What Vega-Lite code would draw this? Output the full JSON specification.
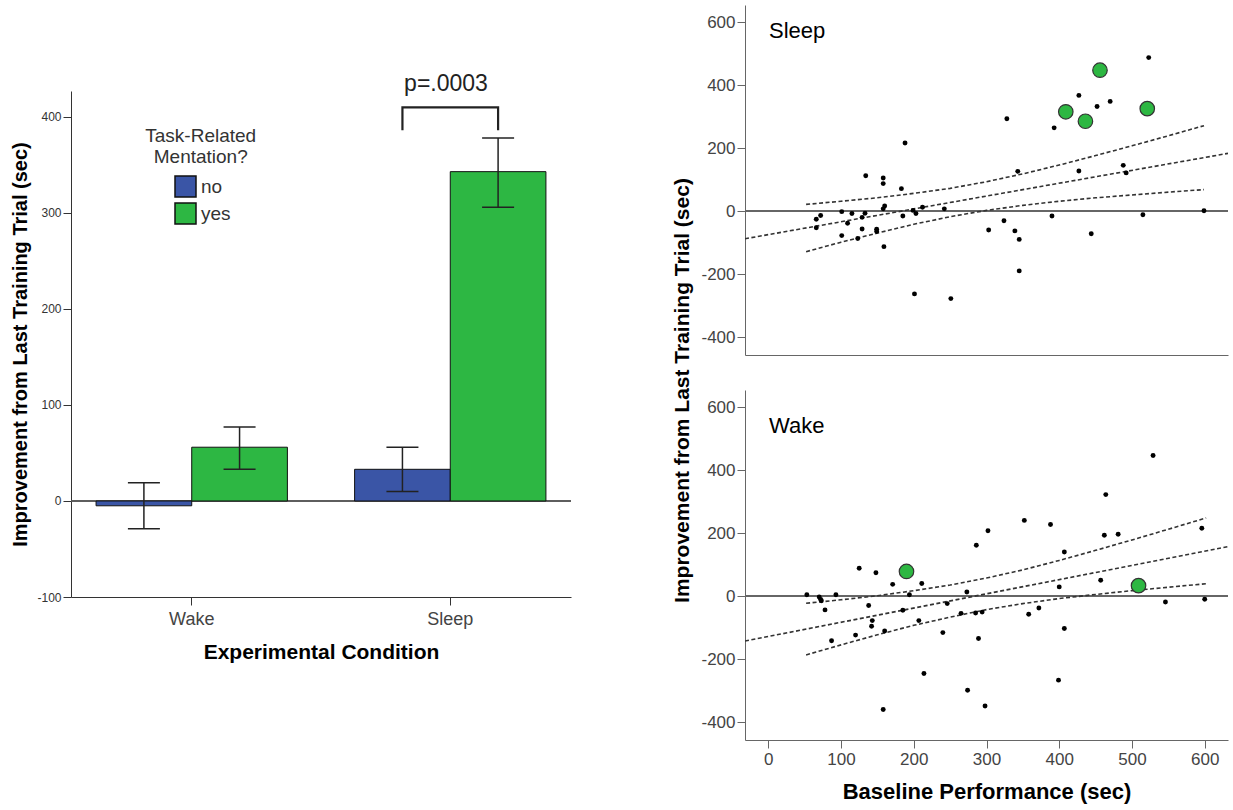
{
  "$schema": "https://vega.github.io/schema/vega-lite/v6.json",
  "padding": {"left": 10, "top": 5, "right": 5, "bottom": 5},
  "background": "white",
  "config": {
    "view": {"stroke": null},
    "font": "Liberation Sans",
    "axis": {"grid": false, "labelFont": "Liberation Sans", "titleFont": "Liberation Sans", "domainColor": "#333", "tickColor": "#333", "labelColor": "#333", "titleColor": "#000"},
    "legend": {"labelFont": "Liberation Sans", "titleFont": "Liberation Sans"}
  },
  "datasets": {
    "bars": [
      {"cond": "Wake", "grp": "no", "mean": -5, "lo": -29, "hi": 19},
      {"cond": "Wake", "grp": "yes", "mean": 56, "lo": 33, "hi": 77},
      {"cond": "Sleep", "grp": "no", "mean": 33, "lo": 10, "hi": 56},
      {"cond": "Sleep", "grp": "yes", "mean": 343, "lo": 306, "hi": 378}
    ],
    "bracket": [
      {"cond": "Sleep", "grp": "no", "v": 386, "k": 1},
      {"cond": "Sleep", "grp": "no", "v": 410, "k": 2},
      {"cond": "Sleep", "grp": "yes", "v": 410, "k": 3},
      {"cond": "Sleep", "grp": "yes", "v": 386, "k": 4}
    ],
    "sleep": [
      {"x": 523, "y": 488, "m": "no"}, {"x": 427, "y": 368, "m": "no"}, {"x": 452, "y": 333, "m": "no"}, {"x": 470, "y": 349, "m": "no"},
      {"x": 328, "y": 294, "m": "no"}, {"x": 393, "y": 265, "m": "no"}, {"x": 188, "y": 217, "m": "no"}, {"x": 343, "y": 127, "m": "no"},
      {"x": 427, "y": 128, "m": "no"}, {"x": 488, "y": 146, "m": "no"}, {"x": 492, "y": 122, "m": "no"}, {"x": 134, "y": 113, "m": "no"},
      {"x": 158, "y": 106, "m": "no"}, {"x": 158, "y": 88, "m": "no"}, {"x": 183, "y": 72, "m": "no"}, {"x": 160, "y": 17, "m": "no"},
      {"x": 158, "y": 8, "m": "no"}, {"x": 212, "y": 13, "m": "no"}, {"x": 242, "y": 8, "m": "no"}, {"x": 199, "y": 3, "m": "no"},
      {"x": 203, "y": -7, "m": "no"}, {"x": 185, "y": -15, "m": "no"}, {"x": 101, "y": -1, "m": "no"}, {"x": 115, "y": -7, "m": "no"},
      {"x": 133, "y": -6, "m": "no"}, {"x": 129, "y": -19, "m": "no"}, {"x": 109, "y": -38, "m": "no"}, {"x": 72, "y": -13, "m": "no"},
      {"x": 66, "y": -25, "m": "no"}, {"x": 66, "y": -52, "m": "no"}, {"x": 129, "y": -56, "m": "no"}, {"x": 149, "y": -57, "m": "no"},
      {"x": 149, "y": -64, "m": "no"}, {"x": 101, "y": -77, "m": "no"}, {"x": 123, "y": -86, "m": "no"}, {"x": 159, "y": -112, "m": "no"},
      {"x": 201, "y": -262, "m": "no"}, {"x": 251, "y": -277, "m": "no"}, {"x": 303, "y": -59, "m": "no"}, {"x": 324, "y": -30, "m": "no"},
      {"x": 339, "y": -62, "m": "no"}, {"x": 345, "y": -89, "m": "no"}, {"x": 345, "y": -189, "m": "no"}, {"x": 390, "y": -15, "m": "no"},
      {"x": 444, "y": -71, "m": "no"}, {"x": 515, "y": -11, "m": "no"}, {"x": 599, "y": 2, "m": "no"},
      {"x": 456, "y": 448, "m": "yes"}, {"x": 409, "y": 316, "m": "yes"}, {"x": 436, "y": 286, "m": "yes"}, {"x": 521, "y": 326, "m": "yes"}
    ],
    "wake": [
      {"x": 529, "y": 447, "m": "no"}, {"x": 464, "y": 323, "m": "no"}, {"x": 352, "y": 241, "m": "no"}, {"x": 388, "y": 228, "m": "no"},
      {"x": 302, "y": 208, "m": "no"}, {"x": 462, "y": 194, "m": "no"}, {"x": 481, "y": 197, "m": "no"}, {"x": 596, "y": 216, "m": "no"},
      {"x": 286, "y": 162, "m": "no"}, {"x": 407, "y": 141, "m": "no"}, {"x": 125, "y": 89, "m": "no"}, {"x": 148, "y": 75, "m": "no"},
      {"x": 171, "y": 38, "m": "no"}, {"x": 211, "y": 41, "m": "no"}, {"x": 457, "y": 51, "m": "no"}, {"x": 400, "y": 30, "m": "no"},
      {"x": 273, "y": 14, "m": "no"}, {"x": 53, "y": 5, "m": "no"}, {"x": 70, "y": -2, "m": "no"}, {"x": 72, "y": -10, "m": "no"},
      {"x": 93, "y": 5, "m": "no"}, {"x": 73, "y": -14, "m": "no"}, {"x": 194, "y": 5, "m": "no"}, {"x": 78, "y": -43, "m": "no"},
      {"x": 138, "y": -29, "m": "no"}, {"x": 246, "y": -23, "m": "no"}, {"x": 185, "y": -44, "m": "no"}, {"x": 265, "y": -54, "m": "no"},
      {"x": 285, "y": -53, "m": "no"}, {"x": 294, "y": -50, "m": "no"}, {"x": 358, "y": -57, "m": "no"}, {"x": 372, "y": -37, "m": "no"},
      {"x": 546, "y": -18, "m": "no"}, {"x": 600, "y": -9, "m": "no"}, {"x": 143, "y": -77, "m": "no"}, {"x": 142, "y": -95, "m": "no"},
      {"x": 207, "y": -77, "m": "no"}, {"x": 160, "y": -110, "m": "no"}, {"x": 120, "y": -123, "m": "no"}, {"x": 87, "y": -141, "m": "no"},
      {"x": 240, "y": -115, "m": "no"}, {"x": 289, "y": -134, "m": "no"}, {"x": 407, "y": -102, "m": "no"}, {"x": 214, "y": -245, "m": "no"},
      {"x": 274, "y": -298, "m": "no"}, {"x": 399, "y": -266, "m": "no"}, {"x": 298, "y": -348, "m": "no"}, {"x": 158, "y": -359, "m": "no"},
      {"x": 190, "y": 79, "m": "yes"}, {"x": 509, "y": 34, "m": "yes"}
    ],
    "fits": [
      {"panel": "Sleep", "s": "fit", "x": -32, "y": -87}, {"panel": "Sleep", "s": "fit", "x": 632, "y": 184},
      {"panel": "Sleep", "s": "upper", "x": 52, "y": 22}, {"panel": "Sleep", "s": "upper", "x": 100, "y": 32}, {"panel": "Sleep", "s": "upper", "x": 150, "y": 43},
      {"panel": "Sleep", "s": "upper", "x": 200, "y": 57}, {"panel": "Sleep", "s": "upper", "x": 250, "y": 73}, {"panel": "Sleep", "s": "upper", "x": 300, "y": 94},
      {"panel": "Sleep", "s": "upper", "x": 350, "y": 119}, {"panel": "Sleep", "s": "upper", "x": 400, "y": 147}, {"panel": "Sleep", "s": "upper", "x": 450, "y": 177},
      {"panel": "Sleep", "s": "upper", "x": 500, "y": 208}, {"panel": "Sleep", "s": "upper", "x": 550, "y": 240}, {"panel": "Sleep", "s": "upper", "x": 599, "y": 272},
      {"panel": "Sleep", "s": "lower", "x": 52, "y": -128}, {"panel": "Sleep", "s": "lower", "x": 100, "y": -98}, {"panel": "Sleep", "s": "lower", "x": 150, "y": -69},
      {"panel": "Sleep", "s": "lower", "x": 200, "y": -41}, {"panel": "Sleep", "s": "lower", "x": 250, "y": -17}, {"panel": "Sleep", "s": "lower", "x": 300, "y": 3},
      {"panel": "Sleep", "s": "lower", "x": 350, "y": 19}, {"panel": "Sleep", "s": "lower", "x": 400, "y": 32}, {"panel": "Sleep", "s": "lower", "x": 450, "y": 43},
      {"panel": "Sleep", "s": "lower", "x": 500, "y": 52}, {"panel": "Sleep", "s": "lower", "x": 550, "y": 61}, {"panel": "Sleep", "s": "lower", "x": 599, "y": 69},
      {"panel": "Wake", "s": "fit", "x": -32, "y": -142}, {"panel": "Wake", "s": "fit", "x": 632, "y": 158},
      {"panel": "Wake", "s": "upper", "x": 52, "y": -22}, {"panel": "Wake", "s": "upper", "x": 100, "y": -11}, {"panel": "Wake", "s": "upper", "x": 150, "y": 2},
      {"panel": "Wake", "s": "upper", "x": 200, "y": 18}, {"panel": "Wake", "s": "upper", "x": 250, "y": 36}, {"panel": "Wake", "s": "upper", "x": 300, "y": 58},
      {"panel": "Wake", "s": "upper", "x": 350, "y": 84}, {"panel": "Wake", "s": "upper", "x": 400, "y": 114}, {"panel": "Wake", "s": "upper", "x": 450, "y": 146},
      {"panel": "Wake", "s": "upper", "x": 500, "y": 179}, {"panel": "Wake", "s": "upper", "x": 550, "y": 213}, {"panel": "Wake", "s": "upper", "x": 602, "y": 249},
      {"panel": "Wake", "s": "lower", "x": 52, "y": -186}, {"panel": "Wake", "s": "lower", "x": 100, "y": -154}, {"panel": "Wake", "s": "lower", "x": 150, "y": -122},
      {"panel": "Wake", "s": "lower", "x": 200, "y": -92}, {"panel": "Wake", "s": "lower", "x": 250, "y": -66}, {"panel": "Wake", "s": "lower", "x": 300, "y": -42},
      {"panel": "Wake", "s": "lower", "x": 350, "y": -23}, {"panel": "Wake", "s": "lower", "x": 400, "y": -7}, {"panel": "Wake", "s": "lower", "x": 450, "y": 6},
      {"panel": "Wake", "s": "lower", "x": 500, "y": 18}, {"panel": "Wake", "s": "lower", "x": 550, "y": 29}, {"panel": "Wake", "s": "lower", "x": 602, "y": 40}
    ]
  },
  "resolve": {"scale": {"color": "independent"}},
  "spacing": 99,
  "hconcat": [
    {
      "vconcat": [
        {
          "width": 500,
          "height": 86,
          "data": {"values": [{"label": "p=.0003", "cond": "Sleep"}]},
          "mark": {"type": "text", "fontSize": 23, "font": "Liberation Sans", "align": "center", "baseline": "alphabetic", "color": "#222"},
          "encoding": {
            "x": {"field": "cond", "type": "nominal", "scale": {"domain": ["Wake", "Sleep"], "paddingInner": 0.26, "paddingOuter": 0.097}, "axis": null},
            "y": {"datum": 0, "type": "quantitative", "scale": {"domain": [0, 1]}, "axis": null},
            "text": {"field": "label"}
          }
        },
        {
          "width": 500,
          "height": 506,
          "layer": [
            {
              "data": {"name": "bars"},
              "mark": {"type": "rule", "color": "#555", "strokeWidth": 1.2},
              "encoding": {"y": {"datum": 0, "type": "quantitative"}}
            },
            {
              "data": {"name": "bars"},
              "mark": {"type": "bar", "stroke": "#111", "strokeWidth": 1, "opacity": 1},
              "encoding": {
                "x": {"field": "cond", "type": "nominal", "sort": ["Wake", "Sleep"],
                  "scale": {"domain": ["Wake", "Sleep"], "paddingInner": 0.26, "paddingOuter": 0.097},
                  "axis": {"title": "Experimental Condition", "labelAngle": 0, "labelFontSize": 18, "labelColor": "#444", "tickSize": 8, "titleFontSize": 21, "titleFontWeight": "bold", "titlePadding": 13, "labelPadding": 5, "domainColor": "#333"}},
                "xOffset": {"field": "grp", "type": "nominal", "scale": {"domain": ["no", "yes"], "paddingInner": 0, "paddingOuter": 0}},
                "y": {"field": "mean", "type": "quantitative",
                  "scale": {"domain": [-100, 427], "nice": false, "zero": false},
                  "axis": {"values": [-100, 0, 100, 200, 300, 400], "labelExpr": "'' + datum.value", "title": "Improvement from Last Training Trial (sec)", "titleFontSize": 20, "titleFontWeight": "bold", "labelFontSize": 12, "tickSize": 8, "titlePadding": 6}},
                "color": {"field": "grp", "type": "nominal", "scale": {"domain": ["no", "yes"], "range": ["#3a55a6", "#2db743"]},
                  "legend": {"orient": "none", "legendX": 103, "legendY": 84, "title": null, "symbolType": "square", "symbolSize": 441, "symbolStrokeColor": "#111", "symbolStrokeWidth": 1.5, "symbolOpacity": 1, "labelFontSize": 19, "labelColor": "#333", "labelOffset": 4, "rowPadding": 0, "padding": 0}}
              }
            },
            {
              "data": {"name": "bars"},
              "mark": {"type": "rule", "color": "#222", "strokeWidth": 1.5},
              "encoding": {
                "x": {"field": "cond", "type": "nominal"},
                "xOffset": {"field": "grp", "type": "nominal"},
                "y": {"field": "lo", "type": "quantitative"},
                "y2": {"field": "hi"}
              }
            },
            {
              "data": {"name": "bars"},
              "mark": {"type": "tick", "color": "#222", "thickness": 1.5, "size": 32, "opacity": 1},
              "encoding": {
                "x": {"field": "cond", "type": "nominal"},
                "xOffset": {"field": "grp", "type": "nominal"},
                "y": {"field": "lo", "type": "quantitative"}
              }
            },
            {
              "data": {"name": "bars"},
              "mark": {"type": "tick", "color": "#222", "thickness": 1.5, "size": 32, "opacity": 1},
              "encoding": {
                "x": {"field": "cond", "type": "nominal"},
                "xOffset": {"field": "grp", "type": "nominal"},
                "y": {"field": "hi", "type": "quantitative"}
              }
            },
            {
              "data": {"name": "bracket"},
              "mark": {"type": "line", "color": "#222", "strokeWidth": 2.2},
              "encoding": {
                "x": {"field": "cond", "type": "nominal"},
                "xOffset": {"field": "grp", "type": "nominal"},
                "y": {"field": "v", "type": "quantitative"},
                "order": {"field": "k", "type": "quantitative"}
              }
            },
            {
              "data": {"values": [{"t": "Task-Related\nMentation?"}]},
              "mark": {"type": "text", "lineBreak": "\n", "fontSize": 19, "lineHeight": 21, "align": "center", "baseline": "top", "color": "#333", "dx": 9},
              "encoding": {
                "x": {"datum": "Wake", "type": "nominal"},
                "y": {"datum": 389, "type": "quantitative"},
                "text": {"field": "t"}
              }
            }
          ]
        }
      ],
      "spacing": 0,
      "bounds": "flush",
      "resolve": {"scale": {"color": "independent"}}
    },
    {
      "vconcat": [
        {
          "width": 483,
          "height": 350,
          "layer": [
            {
              "data": {"name": "sleep"},
              "mark": {"type": "rule", "color": "#666", "strokeWidth": 1.5},
              "encoding": {"y": {"datum": 0, "type": "quantitative", "scale": {"domain": [-456, 655], "nice": false, "zero": false}}}
            },
            {
              "data": {"name": "fits"},
              "transform": [{"filter": "datum.panel == 'Sleep'"}],
              "mark": {"type": "line", "strokeDash": [4, 2.5], "color": "#333", "strokeWidth": 1.6, "clip": true},
              "encoding": {
                "x": {"field": "x", "type": "quantitative", "scale": {"domain": [-32, 632], "nice": false, "zero": false},
                  "axis": {"values": [0, 100, 200, 300, 400, 500, 600], "ticks": false, "labels": false, "title": null, "domainColor": "#666"}},
                "y": {"field": "y", "type": "quantitative", "scale": {"domain": [-456, 655], "nice": false, "zero": false},
                  "axis": {"values": [-400, -200, 0, 200, 400, 600], "labelExpr": "'' + datum.value", "title": "Improvement from Last Training Trial (sec)", "titleY": 385, "titleFontSize": 21, "titleFontWeight": "bold", "labelFontSize": 17, "labelColor": "#444", "tickSize": 8, "domainColor": "#666", "tickColor": "#666", "labelPadding": 2, "titlePadding": 8}},
                "detail": {"field": "s"}
              }
            },
            {
              "data": {"name": "sleep"},
              "transform": [{"filter": "datum.m == 'no'"}],
              "mark": {"type": "circle", "color": "#000", "size": 24, "opacity": 1},
              "encoding": {
                "x": {"field": "x", "type": "quantitative"},
                "y": {"field": "y", "type": "quantitative"}
              }
            },
            {
              "data": {"name": "sleep"},
              "transform": [{"filter": "datum.m == 'yes'"}],
              "mark": {"type": "point", "shape": "circle", "filled": true, "fill": "#2db742", "stroke": "#333", "strokeWidth": 1.2, "size": 210, "opacity": 1, "fillOpacity": 1},
              "encoding": {
                "x": {"field": "x", "type": "quantitative"},
                "y": {"field": "y", "type": "quantitative"}
              }
            },
            {
              "data": {"values": [{"label": "Sleep"}]},
              "mark": {"type": "text", "align": "left", "baseline": "alphabetic", "fontSize": 22, "font": "Liberation Sans", "color": "#000"},
              "encoding": {
                "x": {"datum": 1, "type": "quantitative"},
                "y": {"datum": 549, "type": "quantitative"},
                "text": {"field": "label"}
              }
            }
          ]
        },
        {
          "width": 483,
          "height": 350,
          "layer": [
            {
              "data": {"name": "wake"},
              "mark": {"type": "rule", "color": "#666", "strokeWidth": 1.5},
              "encoding": {"y": {"datum": 0, "type": "quantitative", "scale": {"domain": [-456, 655], "nice": false, "zero": false}}}
            },
            {
              "data": {"name": "fits"},
              "transform": [{"filter": "datum.panel == 'Wake'"}],
              "mark": {"type": "line", "strokeDash": [4, 2.5], "color": "#333", "strokeWidth": 1.6, "clip": true},
              "encoding": {
                "x": {"field": "x", "type": "quantitative", "scale": {"domain": [-32, 632], "nice": false, "zero": false},
                  "axis": {"values": [0, 100, 200, 300, 400, 500, 600], "title": "Baseline Performance (sec)", "titleFontSize": 22, "titleFontWeight": "bold", "labelFontSize": 17, "labelColor": "#444", "tickSize": 8, "domainColor": "#666", "tickColor": "#666", "labelPadding": 3, "titlePadding": 14}},
                "y": {"field": "y", "type": "quantitative", "scale": {"domain": [-456, 655], "nice": false, "zero": false},
                  "axis": {"values": [-400, -200, 0, 200, 400, 600], "labelExpr": "'' + datum.value", "title": null, "labelFontSize": 17, "labelColor": "#444", "tickSize": 8, "domainColor": "#666", "tickColor": "#666", "labelPadding": 2}},
                "detail": {"field": "s"}
              }
            },
            {
              "data": {"name": "wake"},
              "transform": [{"filter": "datum.m == 'no'"}],
              "mark": {"type": "circle", "color": "#000", "size": 24, "opacity": 1},
              "encoding": {
                "x": {"field": "x", "type": "quantitative"},
                "y": {"field": "y", "type": "quantitative"}
              }
            },
            {
              "data": {"name": "wake"},
              "transform": [{"filter": "datum.m == 'yes'"}],
              "mark": {"type": "point", "shape": "circle", "filled": true, "fill": "#2db742", "stroke": "#333", "strokeWidth": 1.2, "size": 210, "opacity": 1, "fillOpacity": 1},
              "encoding": {
                "x": {"field": "x", "type": "quantitative"},
                "y": {"field": "y", "type": "quantitative"}
              }
            },
            {
              "data": {"values": [{"label": "Wake"}]},
              "mark": {"type": "text", "align": "left", "baseline": "alphabetic", "fontSize": 22, "font": "Liberation Sans", "color": "#000"},
              "encoding": {
                "x": {"datum": 1, "type": "quantitative"},
                "y": {"datum": 519, "type": "quantitative"},
                "text": {"field": "label"}
              }
            }
          ]
        }
      ],
      "spacing": 35,
      "bounds": "flush"
    }
  ]
}
